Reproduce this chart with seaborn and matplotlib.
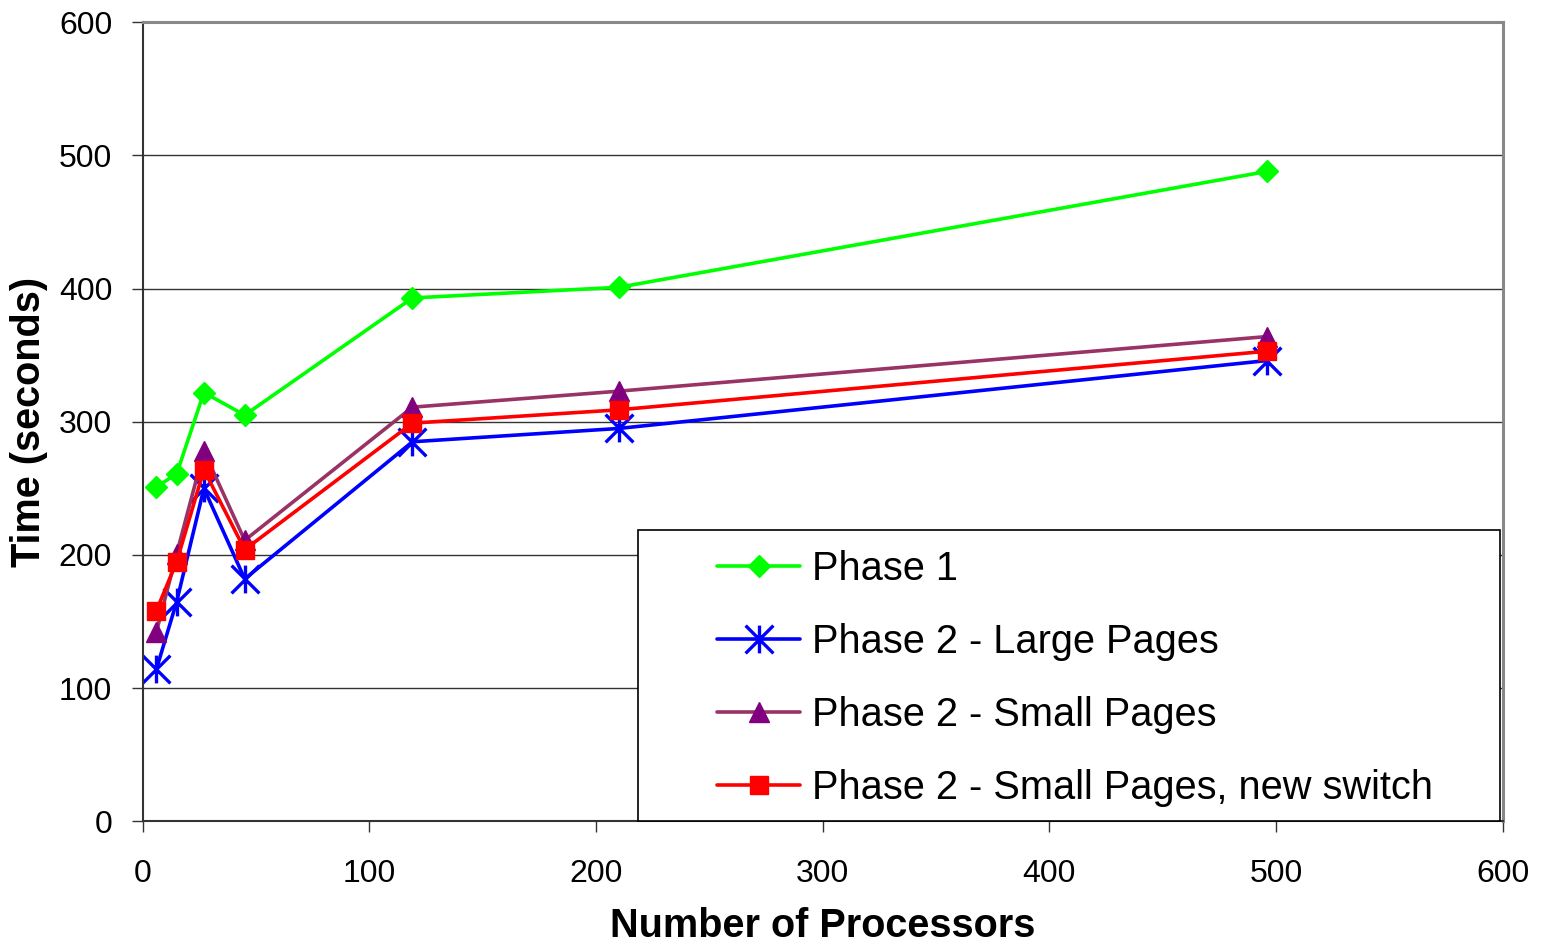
import numpy as np
import pandas as pd
import matplotlib
matplotlib.use("Agg")
import matplotlib.pyplot as plt
from matplotlib.path import Path
from matplotlib.patches import Rectangle
import seaborn as sns

processors = [6, 15, 27, 45, 119, 210, 496]
phase1 = [251, 261, 322, 305, 393, 401, 488]
phase2_large = [114, 165, 250, 182, 285, 295, 346]
phase2_small = [142, 201, 278, 211, 311, 323, 364]
phase2_small_new = [158, 195, 264, 204, 299, 309, 353]

labels = ["Phase 1", "Phase 2 - Large Pages", "Phase 2 - Small Pages",
          "Phase 2 - Small Pages, new switch"]

sns.set_style("white")
plt.rcParams["font.family"] = ["Liberation Sans", "DejaVu Sans"]
plt.rcParams["text.color"] = "black"
plt.rcParams["axes.labelcolor"] = "black"
plt.rcParams["xtick.color"] = "black"
plt.rcParams["ytick.color"] = "black"

# excel style asterisk: an X plus a vertical bar
asterisk = Path([(-1, -1), (1, 1), (-1, 1), (1, -1), (0, -1), (0, 1)],
                [Path.MOVETO, Path.LINETO, Path.MOVETO, Path.LINETO,
                 Path.MOVETO, Path.LINETO])

fig = plt.figure(figsize=(15.41, 9.48), dpi=100)
ax = fig.add_axes([142.7 / 1541, 1 - 821.3 / 948, 1360 / 1541, 799 / 948])

styles = [
    dict(color="#00FF00", marker="D", markersize=11.5, mfc="#00FF00", mec="#00FF00", mew=1),
    dict(color="#0000FF", marker=asterisk, markersize=20, mfc="none", mec="#0000FF", mew=2.4),
    dict(color="#993366", marker="^", markersize=14, mfc="#800080", mec="#800080", mew=1),
    dict(color="#FF0000", marker="s", markersize=13.5, mfc="#FF0000", mec="#FF0000", mew=1),
]
series = [phase1, phase2_large, phase2_small, phase2_small_new]

for lab, vals, st in zip(labels, series, styles):
    df = pd.DataFrame({"x": processors, "y": vals})
    sns.lineplot(data=df, x="x", y="y", ax=ax, label=lab, linewidth=2.6, **st)

ax.set_xlim(0, 600)
ax.set_ylim(0, 600)
ax.set_xticks(range(0, 601, 100))
ax.set_yticks(range(0, 601, 100))
ax.yaxis.grid(True, color="#333333", linewidth=1)
ax.xaxis.grid(False)
ax.set_axisbelow(True)

for side in ["left", "bottom"]:
    ax.spines[side].set_color("#333333")
    ax.spines[side].set_linewidth(1.5)
for side in ["top", "right"]:
    ax.spines[side].set_color("#888888")
    ax.spines[side].set_linewidth(2.2)

ax.tick_params(axis="both", direction="out", length=8, width=1, color="#333333",
               labelsize=23, left=True, bottom=True)
ax.tick_params(axis="y", pad=14)
ax.tick_params(axis="x", pad=19)

ax.set_xlabel("Number of Processors", fontsize=28.5, fontweight="bold", labelpad=13)
ax.set_ylabel("Time (seconds)", fontsize=28.5, fontweight="bold", labelpad=8)

# legend box
box = Rectangle(((638 - 142.7) / 1360, 0), (1500 - 638) / 1360, (821.3 - 530) / 799,
                transform=ax.transAxes, facecolor="white", edgecolor="black",
                linewidth=1.2, zorder=5, clip_on=False)
ax.add_patch(box)

leg = ax.legend(loc="upper left", bbox_to_anchor=((717 - 142.7) / 1360, (821.3 - 550) / 799),
                frameon=False, fontsize=28.6, handlelength=2.1, handletextpad=0.3,
                labelspacing=0.88, borderpad=0, borderaxespad=0)
leg.set_zorder(6)

fig.savefig("out.png", dpi=100)
